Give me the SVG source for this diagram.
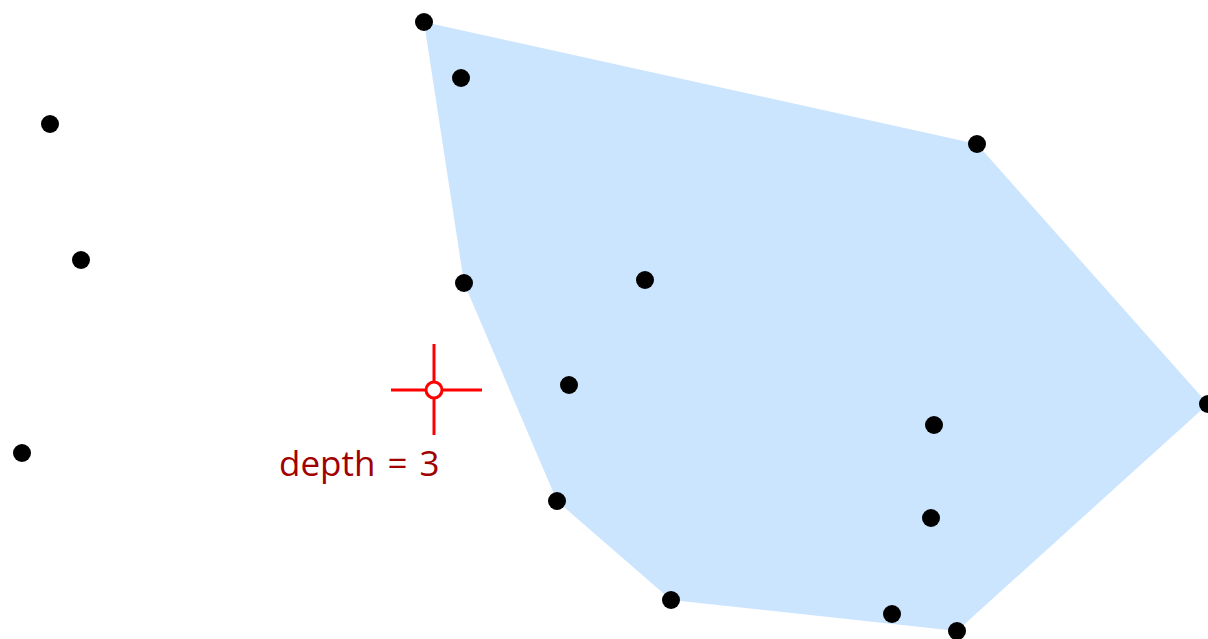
<svg xmlns="http://www.w3.org/2000/svg" width="1208" height="639" viewBox="0 0 1208 639">
<style>
.pt{fill:#000}
.hull{fill:#cce5ff;stroke:none}
.cross{stroke:#ff0000;stroke-width:3;fill:none}
.lbl{font-family:"Open Sans","DejaVu Sans",sans-serif;font-size:35px;fill:#a00000;word-spacing:3px}
</style>
<rect width="1208" height="639" fill="#fff"/>
<g id="hull">
<polygon class="hull" points="424,22 977,144 1208,404 957,631 671,600 557,501 464,283"/>
</g>
<g id="connectors"></g>
<g id="points">
<circle id="p1" class="pt" cx="424" cy="22" r="9"/>
<circle id="p2" class="pt" cx="461" cy="78" r="9"/>
<circle id="p3" class="pt" cx="50" cy="124" r="9"/>
<circle id="p4" class="pt" cx="977" cy="144" r="9"/>
<circle id="p5" class="pt" cx="81" cy="260" r="9"/>
<circle id="p6" class="pt" cx="464" cy="283" r="9"/>
<circle id="p7" class="pt" cx="645" cy="280" r="9"/>
<circle id="p8" class="pt" cx="569" cy="385" r="9"/>
<circle id="p9" class="pt" cx="1208" cy="404" r="9"/>
<circle id="p10" class="pt" cx="934" cy="425" r="9"/>
<circle id="p11" class="pt" cx="22" cy="453" r="9"/>
<circle id="p12" class="pt" cx="557" cy="501" r="9"/>
<circle id="p13" class="pt" cx="931" cy="518" r="9"/>
<circle id="p14" class="pt" cx="671" cy="600" r="9"/>
<circle id="p15" class="pt" cx="892" cy="614" r="9"/>
<circle id="p16" class="pt" cx="957" cy="631" r="9"/>
</g>
<g id="query">
<line class="cross" x1="391" y1="390" x2="426" y2="390"/>
<line class="cross" x1="442" y1="390" x2="482" y2="390"/>
<line class="cross" x1="434" y1="344" x2="434" y2="382"/>
<line class="cross" x1="434" y1="398" x2="434" y2="435"/>
<circle cx="434" cy="390" r="8" fill="#fff" stroke="#ff0000" stroke-width="3"/>
<text class="lbl" x="279" y="476">depth = 3</text>
</g>
</svg>
